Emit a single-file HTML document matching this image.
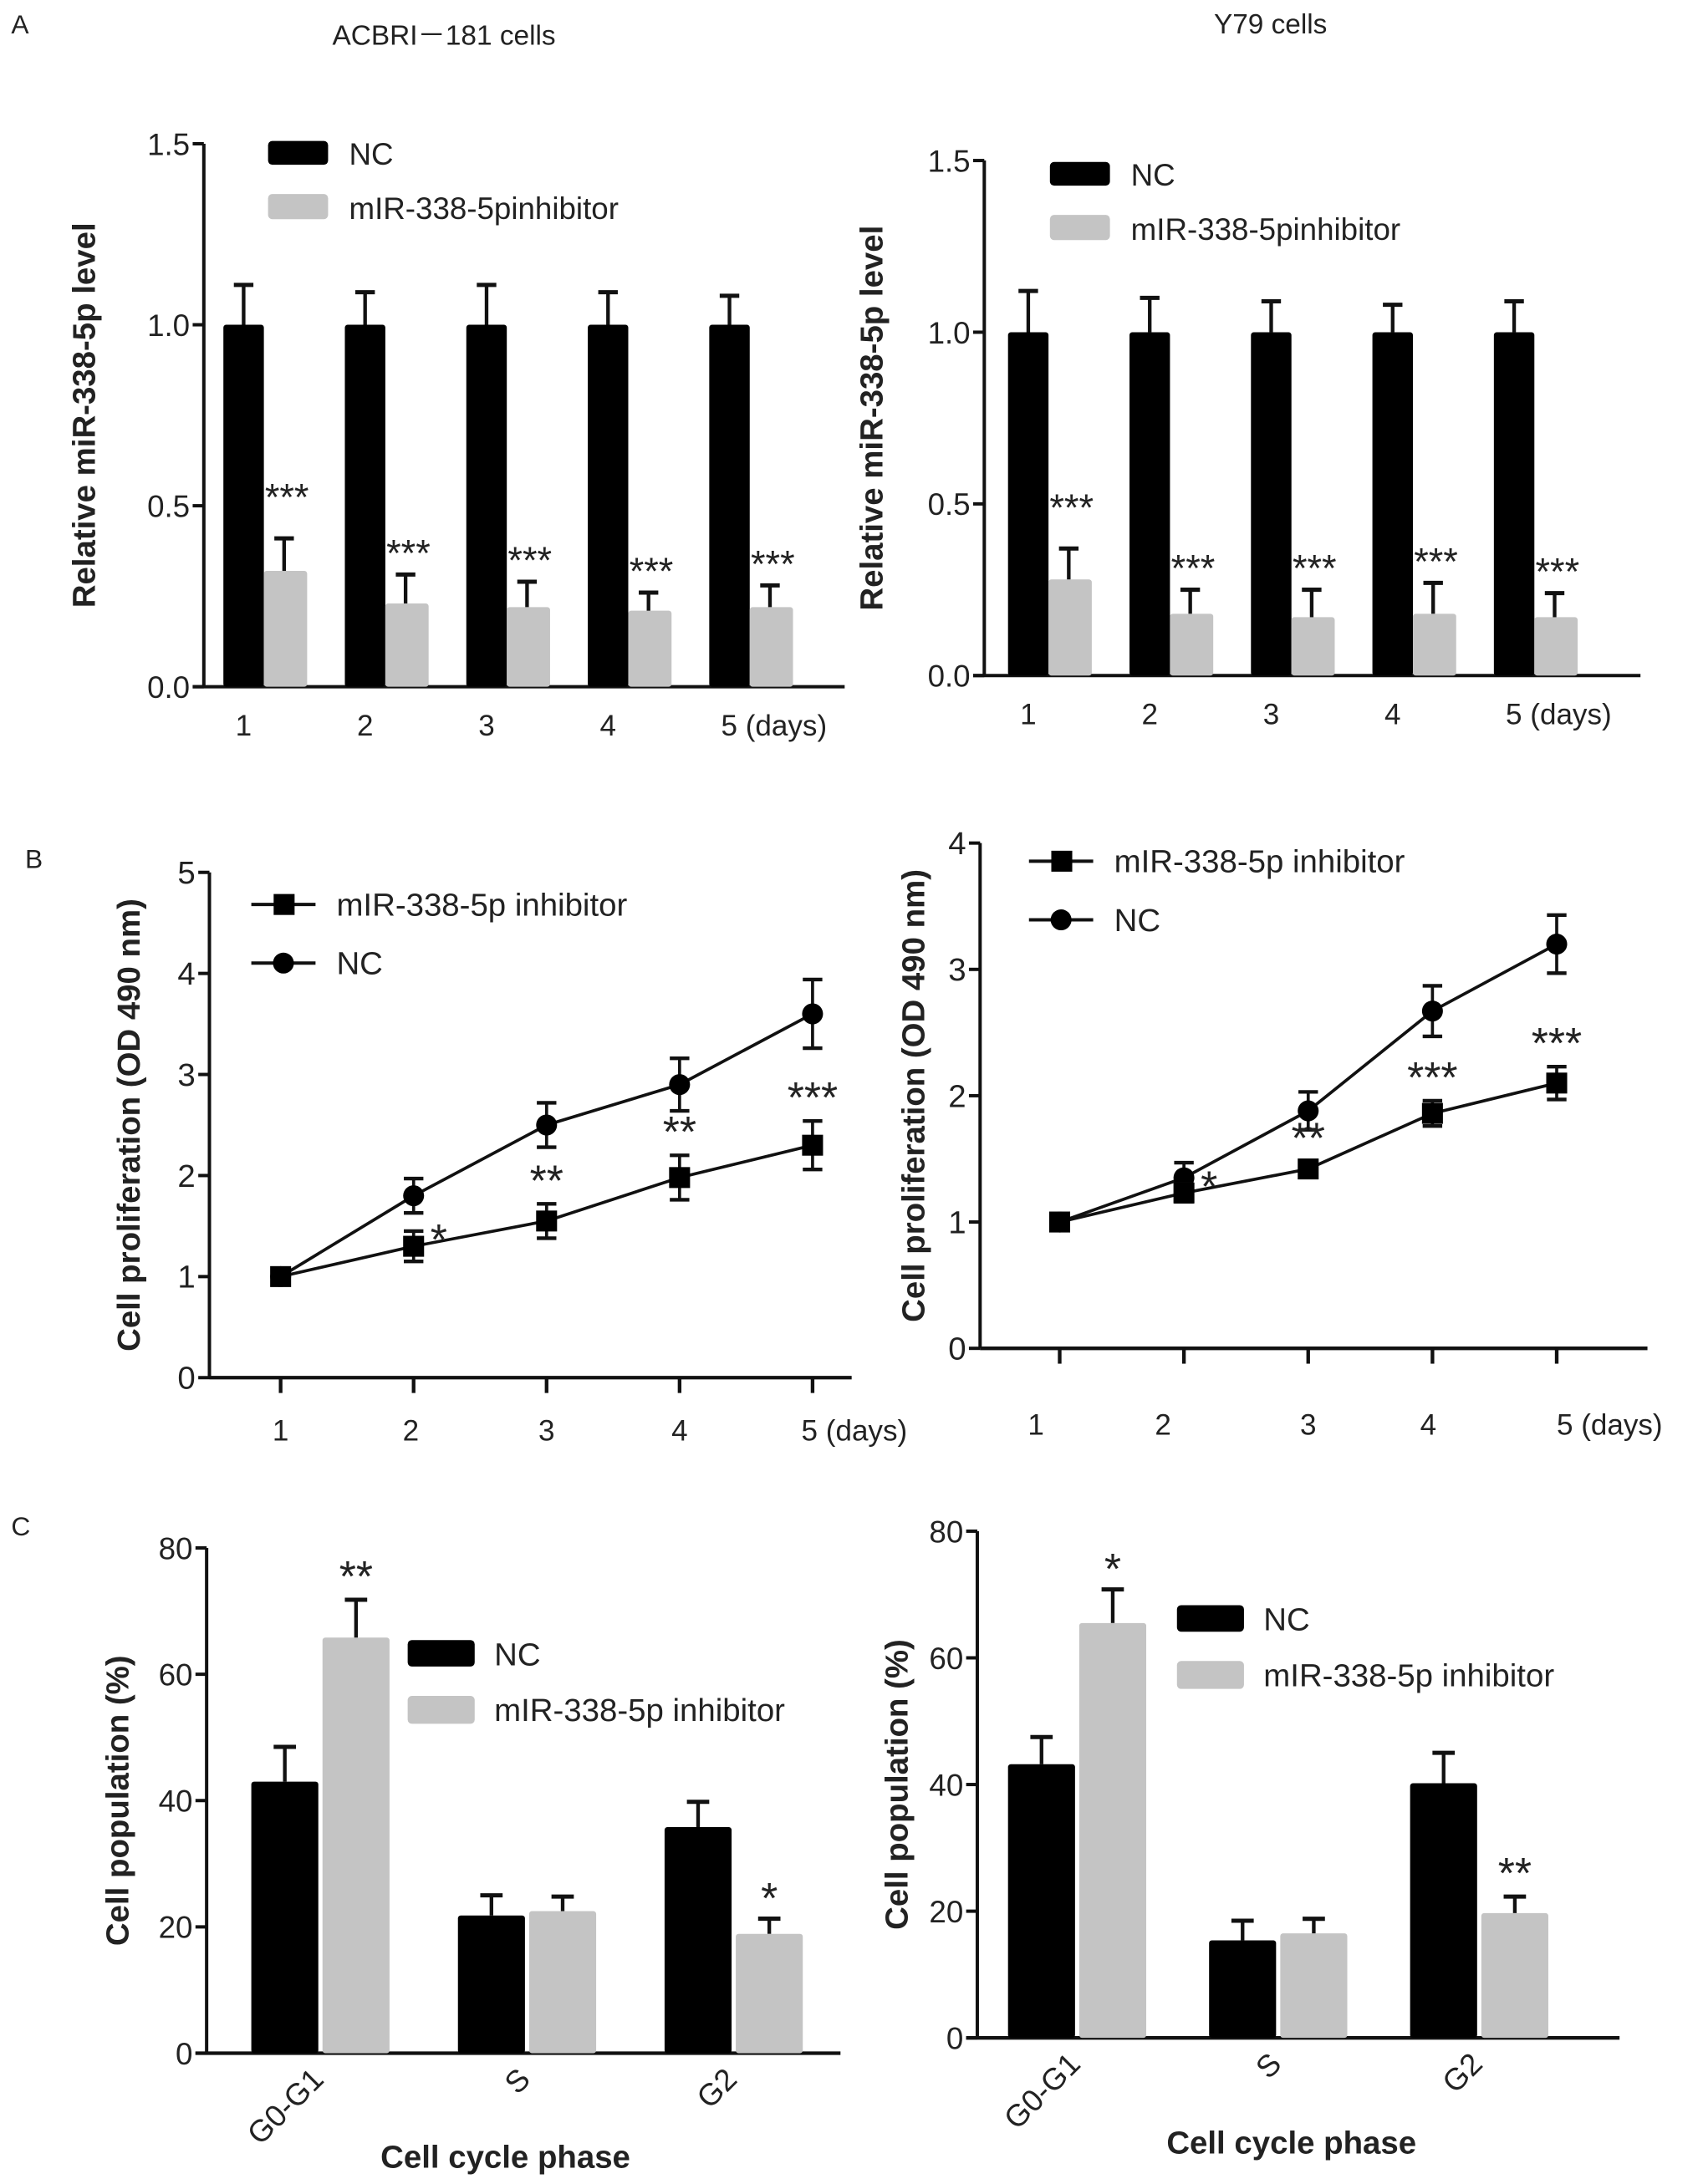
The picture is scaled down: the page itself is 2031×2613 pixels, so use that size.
<!DOCTYPE html>
<html><head><meta charset="utf-8"><style>
html,body{margin:0;padding:0;background:#fff}
svg{display:block}
text{font-family:"Liberation Sans","Noto Sans CJK SC",sans-serif;fill:#222}
</style></head><body>
<svg id="fig" xmlns="http://www.w3.org/2000/svg" width="2031" height="2613" viewBox="0 0 1216.2 1564.7"></svg>
<script>
// ---------- Panel A data ----------
const aDays = ['1','2','3','4','5'];
const aLeftNC = [1,1,1,1,1];
const aLeftNCerr = [0.11,0.09,0.11,0.09,0.08];
const aLeftInh = [0.32,0.23,0.22,0.21,0.22];
const aLeftInhErr = [0.09,0.08,0.07,0.05,0.06];
const aRightNC = [1,1,1,1,1];
const aRightNCerr = [0.12,0.10,0.09,0.08,0.09];
const aRightInh = [0.28,0.18,0.17,0.18,0.17];
const aRightInhErr = [0.09,0.07,0.08,0.09,0.07];
const aTicks = [0,0.5,1.0,1.5];
const aTickLabels = ['0.0','0.5','1.0','1.5'];
const aStars = ['***','***','***','***','***'];
// ---------- Panel B data ----------
const bDays = [1,2,3,4,5];
const bLeftInh = [1.0,1.3,1.55,1.98,2.3];
const bLeftInhErr = [0.08,0.15,0.17,0.22,0.24];
const bLeftNC = [1.0,1.8,2.5,2.9,3.6];
const bLeftNCerr = [0.05,0.17,0.22,0.26,0.34];
const bLeftStars = ['','*','**','**','***'];
const bRightInh = [1.0,1.23,1.42,1.86,2.1];
const bRightInhErr = [0.04,0.07,0.06,0.1,0.13];
const bRightNC = [1.0,1.35,1.88,2.67,3.2];
const bRightNCerr = [0.03,0.12,0.15,0.2,0.23];
const bRightStars = ['','*','**','***','***'];
const bLeftTicks = [0,1,2,3,4,5];
const bRightTicks = [0,1,2,3,4];
// ---------- Panel C data ----------
const cPhases = ['G0-G1','S','G2'];
const cLeftNC = [43,21.8,35.8];
const cLeftNCerr = [5.5,3.2,4.0];
const cLeftInh = [65.8,22.5,18.9];
const cLeftInhErr = [6.0,2.3,2.4];
const cLeftStars = ['**','','*'];
const cRightNC = [43.2,15.4,40.2];
const cRightNCerr = [4.3,3.1,4.8];
const cRightInh = [65.5,16.5,19.7];
const cRightInhErr = [5.3,2.3,2.6];
const cRightStars = ['*','','**'];
const cTicks = [0,20,40,60,80];

const NS='http://www.w3.org/2000/svg';
const svg=document.getElementById('fig');
function mk(tag,attrs,parent){const e=document.createElementNS(NS,tag);for(const k in attrs)e.setAttribute(k,attrs[k]);(parent||svg).appendChild(e);return e;}
function txt(s,attrs,parent){const e=mk('text',attrs,parent);e.textContent=s;return e;}
function lin(y0v,y1v,p0,p1){return v=>p0+(v-y0v)/(y1v-y0v)*(p1-p0);}

let t;
t=txt('A',{x:8,y:24,'font-size':19});


t=txt('B',{x:18,y:622,'font-size':19});


t=txt('C',{x:8,y:1100,'font-size':19});


t=txt('ACBRI－181 cells',{x:318,y:32,'font-size':20,'text-anchor':'middle'});


t=txt('Y79  cells',{x:910,y:24,'font-size':20,'text-anchor':'middle'});



function yAxis(g,x,ys,ticks,labels,fs,name){
  const ax=mk('line',{x1:x,y1:ys(ticks[ticks.length-1]),x2:x,y2:ys(ticks[0]),stroke:'#111','stroke-width':2.4},g);
  
  
  ticks.forEach((v,i)=>{
    const tk=mk('line',{x1:x-8,y1:ys(v),x2:x,y2:ys(v),stroke:'#111','stroke-width':2.4},g);
    
    
    const l=txt(labels[i],{x:x-10,y:ys(v)+8,'font-size':fs,'text-anchor':'end'},g);
    
    
  });
}
function yTitle(g,s,x,y,name){
  const e=txt(s,{x:0,y:0,'font-size':23,'font-weight':'bold','text-anchor':'middle',transform:`translate(${x},${y}) rotate(-90)`,fill:'#333'},g);
  
  
}
function errUp(g,cx,yTop,yVal,w,name){
  const a=mk('line',{x1:cx,y1:yVal,x2:cx,y2:yTop,stroke:'#111','stroke-width':2.6},g);
  
  
  const c=mk('line',{x1:cx-w/2,y1:yTop,x2:cx+w/2,y2:yTop,stroke:'#111','stroke-width':3},g);
  
  
}

function panelA(o){
  const g=mk('g',{});
  
  
  const ys=lin(0,1.5,o.y0,o.y15);
  yAxis(g,o.ax,ys,aTicks,aTickLabels,22,o.name);
  const xa=mk('line',{x1:o.ax-8,y1:o.y0,x2:o.xEnd,y2:o.y0,stroke:'#111','stroke-width':2.4},g);
  
  
  yTitle(g,'Relative miR-338-5p level',o.titleX,(o.y0+o.y15)/2,o.name);
  const bw=29;
  aDays.forEach((d,i)=>{
    const gx=o.first+i*o.step;
    const r1=mk('rect',{x:gx-bw,y:ys(o.nc[i]),width:bw,height:o.y0-ys(o.nc[i]),fill:'#000',rx:2},g);
    
    
    errUp(g,gx-bw/2,ys(o.nc[i]+o.ncE[i]),ys(o.nc[i]),14,'nc-day'+d);
    const r2=mk('rect',{x:gx,y:ys(o.inh[i]),width:bw+2,height:o.y0-ys(o.inh[i]),fill:'#c4c4c4',rx:2},g);
    
    
    errUp(g,gx+bw/2,ys(o.inh[i]+o.inhE[i]),ys(o.inh[i]),14,'inhibitor-day'+d);
    const st=txt(aStars[i],{x:gx+bw/2+2,y:ys(o.inh[i]+o.inhE[i])-(i===0?20:6),'font-size':27,'text-anchor':'middle',fill:'#333'},g);
    
    
    const lbl=txt(i===4?d+'  (days)':d,{x:gx-bw/2+(i===4?-6:0),y:o.y0+35,'font-size':21,'text-anchor':i===4?'start':'middle'},g);
    
    
  });
  const l1=mk('rect',{x:o.legX,y:o.legY,width:43,height:17,fill:'#000',rx:3},g);
  
  
  const t1=txt('NC',{x:o.legX+58,y:o.legY+17,'font-size':22},g);
  
  
  const l2=mk('rect',{x:o.legX,y:o.legY+38,width:43,height:18,fill:'#c4c4c4',rx:3},g);
  
  
  const t2=txt('mIR-338-5pinhibitor',{x:o.legX+58,y:o.legY+56,'font-size':22},g);
  
  
}
panelA({name:'chart-a-acbri',ax:146,y0:492,y15:103,xEnd:605,first:189,step:87,nc:aLeftNC,ncE:aLeftNCerr,inh:aLeftInh,inhE:aLeftInhErr,titleX:68,legX:192,legY:101});
panelA({name:'chart-a-y79',ax:705,y0:484,y15:115,xEnd:1175,first:751,step:87,nc:aRightNC,ncE:aRightNCerr,inh:aRightInh,inhE:aRightInhErr,titleX:632,legX:752,legY:116});

function errBoth(g,cx,yv,e,ys,name){
  const a=mk('line',{x1:cx,y1:ys(yv+e),x2:cx,y2:ys(yv-e),stroke:'#111','stroke-width':2.2},g);
  
  
  [yv+e,yv-e].forEach(v=>{
    const c=mk('line',{x1:cx-7,y1:ys(v),x2:cx+7,y2:ys(v),stroke:'#111','stroke-width':2.6},g);
    
    
  });
}
function panelB(o){
  const g=mk('g',{});
  
  
  const ys=lin(0,o.max,o.y0,o.yTop);
  const xs=lin(1,5,o.x1,o.x5);
  yAxis(g,o.ax,ys,o.ticks,o.ticks.map(String),23,o.name);
  const xa=mk('line',{x1:o.ax,y1:o.y0,x2:o.xEnd,y2:o.y0,stroke:'#111','stroke-width':2.6},g);
  
  
  yTitle(g,'Cell proliferation (OD 490 nm)',o.titleX,(o.y0+o.yTop)/2,o.name);
  bDays.forEach((d,i)=>{
    const tk=mk('line',{x1:xs(d),y1:o.y0,x2:xs(d),y2:o.y0+11,stroke:'#111','stroke-width':2.6},g);
    
    
    const lbl=txt(i===4?d+'  (days)':String(d),{x:xs(d)+o.lblOff[i],y:o.lblY,'font-size':21,'text-anchor':i===4?'start':'middle'},g);
    
    
  });
  const pNC=bDays.map((d,i)=>xs(d)+','+ys(o.nc[i])).join(' ');
  const lnc=mk('polyline',{points:pNC,fill:'none',stroke:'#111','stroke-width':2.2},g);
  
  
  const pI=bDays.map((d,i)=>xs(d)+','+ys(o.inh[i])).join(' ');
  const li=mk('polyline',{points:pI,fill:'none',stroke:'#111','stroke-width':2.2},g);
  
  
  bDays.forEach((d,i)=>{
    errBoth(g,xs(d),o.nc[i],o.ncE[i],ys,'nc-day'+d);
    const c=mk('circle',{cx:xs(d),cy:ys(o.nc[i]),r:7.5,fill:'#000'},g);
    
    
    errBoth(g,xs(d),o.inh[i],o.inhE[i],ys,'inhibitor-day'+d);
    const s=mk('rect',{x:xs(d)-7.5,y:ys(o.inh[i])-7.5,width:15,height:15,fill:'#000'},g);
    
    
    if(o.stars[i]){
      const single=o.stars[i]==='*';
      const st=txt(o.stars[i],{x:xs(d)+(single?18:0),y:single?ys(o.inh[i])+6:ys(o.inh[i]+o.inhE[i])-6,'font-size':31,'text-anchor':'middle',fill:'#333'},g);
      
      
    }
  });
  const ll1=mk('line',{x1:o.legX,y1:o.legY,x2:o.legX+46,y2:o.legY,stroke:'#111','stroke-width':2.4},g);
  
  
  const lm1=mk('rect',{x:o.legX+16,y:o.legY-7.5,width:15,height:15,fill:'#000'},g);
  
  
  const lt1=txt('mIR-338-5p inhibitor',{x:o.legX+61,y:o.legY+8,'font-size':23},g);
  
  
  const ll2=mk('line',{x1:o.legX,y1:o.legY+42,x2:o.legX+46,y2:o.legY+42,stroke:'#111','stroke-width':2.4},g);
  
  
  const lm2=mk('circle',{cx:o.legX+23,cy:o.legY+42,r:7.5,fill:'#000'},g);
  
  
  const lt2=txt('NC',{x:o.legX+61,y:o.legY+50,'font-size':23},g);
  
  
}
panelB({name:'chart-b-acbri',ax:150,y0:987,yTop:625,max:5,ticks:bLeftTicks,xEnd:610,x1:201,x5:582,nc:bLeftNC,ncE:bLeftNCerr,inh:bLeftInh,inhE:bLeftInhErr,stars:bLeftStars,titleX:100,lblY:1032,lblOff:[0,-2,0,0,-8],legX:180,legY:648});
panelB({name:'chart-b-y79',ax:702,y0:966,yTop:604,max:4,ticks:bRightTicks,xEnd:1180,x1:759,x5:1115,nc:bRightNC,ncE:bRightNCerr,inh:bRightInh,inhE:bRightInhErr,stars:bRightStars,titleX:662,lblY:1028,lblOff:[-17,-15,0,-3,0],legX:737,legY:617});

function panelC(o){
  const g=mk('g',{});
  
  
  const ys=lin(0,80,o.y0,o.y80);
  yAxis(g,o.ax,ys,cTicks,cTicks.map(String),22,o.name);
  const xa=mk('line',{x1:o.ax-8,y1:o.y0,x2:o.xEnd,y2:o.y0,stroke:'#111','stroke-width':2.6},g);
  
  
  yTitle(g,'Cell population (%)',o.titleX,(o.y0+o.y80)/2,o.name);
  const bw=48;
  cPhases.forEach((p,i)=>{
    const gx=o.first+i*o.step;
    const r1=mk('rect',{x:gx-bw-1,y:ys(o.nc[i]),width:bw,height:o.y0-ys(o.nc[i]),fill:'#000',rx:2},g);
    
    
    errUp(g,gx-bw/2-1,ys(o.nc[i]+o.ncE[i]),ys(o.nc[i]),16,'nc-'+p.toLowerCase());
    const r2=mk('rect',{x:gx+2,y:ys(o.inh[i]),width:bw,height:o.y0-ys(o.inh[i]),fill:'#c4c4c4',rx:2},g);
    
    
    errUp(g,gx+2+bw/2,ys(o.inh[i]+o.inhE[i]),ys(o.inh[i]),16,'inhibitor-'+p.toLowerCase());
    if(o.stars[i]){
      const st=txt(o.stars[i],{x:gx+2+bw/2,y:ys(o.inh[i]+o.inhE[i])+(o.stars[i].length===1?-4:-6),'font-size':31,'text-anchor':'middle',fill:'#222'},g);
      
      
    }
    const lbl=txt(p,{x:0,y:0,'font-size':22,'text-anchor':'end',transform:`translate(${gx+4},${o.y0+20}) rotate(-45)`},g);
    
    
  });
  const xt=txt('Cell cycle phase',{x:o.xtX,y:o.xtY,'font-size':23,'font-weight':'bold','text-anchor':'middle',fill:'#333'},g);
  
  
  const l1=mk('rect',{x:o.legX,y:o.legY,width:48,height:19,fill:'#000',rx:3},g);
  
  
  const t1=txt('NC',{x:o.legX+62,y:o.legY+18,'font-size':23},g);
  
  
  const l2=mk('rect',{x:o.legX,y:o.legY+40,width:48,height:20,fill:'#c4c4c4',rx:3},g);
  
  
  const t2=txt('mIR-338-5p inhibitor',{x:o.legX+62,y:o.legY+58,'font-size':23},g);
  
  
}
panelC({name:'chart-c-acbri',ax:148,y0:1471,y80:1109,xEnd:602,first:229,step:148,nc:cLeftNC,ncE:cLeftNCerr,inh:cLeftInh,inhE:cLeftInhErr,stars:cLeftStars,titleX:92,xtX:362,xtY:1553,legX:292,legY:1175});
panelC({name:'chart-c-y79',ax:700,y0:1460,y80:1097,xEnd:1160,first:771,step:144,nc:cRightNC,ncE:cRightNCerr,inh:cRightInh,inhE:cRightInhErr,stars:cRightStars,titleX:650,xtX:925,xtY:1543,legX:843,legY:1150});
</script>
</body></html>
